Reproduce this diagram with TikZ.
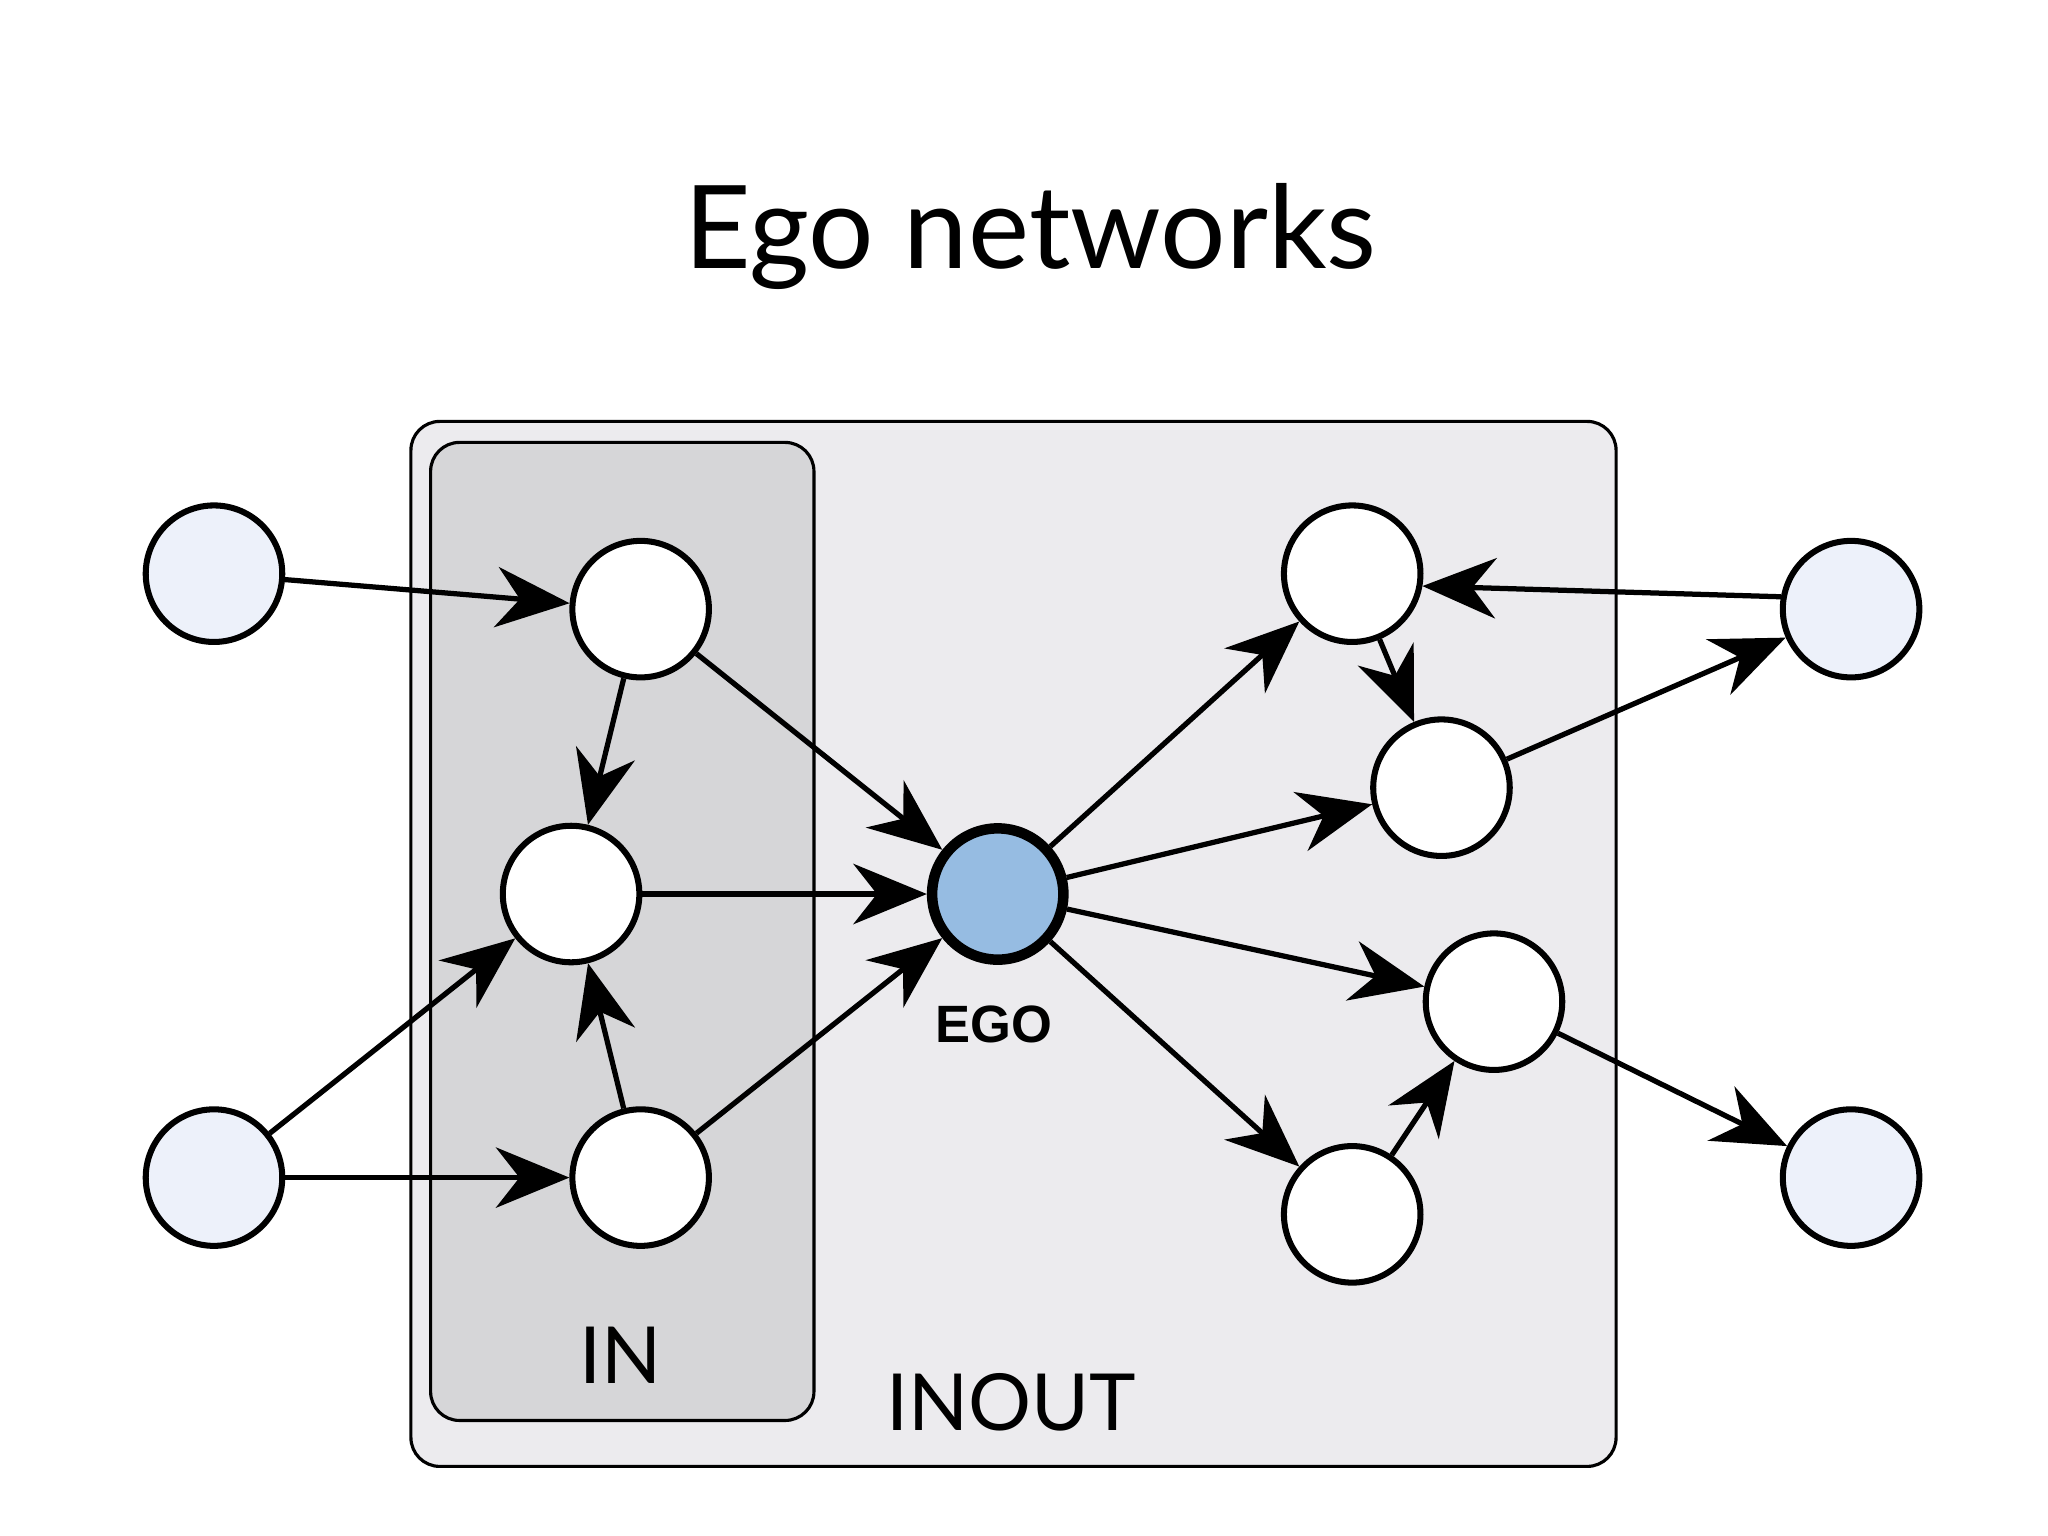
\documentclass[tikz,border=0pt]{standalone}
\usepackage{fontspec}
\setmainfont{Lato}
\newfontfamily\egofont{Liberation Sans}
\usetikzlibrary{arrows.meta}
\definecolor{outerbg}{HTML}{ECEBEE}
\definecolor{innerbg}{HTML}{D6D6D8}
\definecolor{lightn}{HTML}{EDF1FA}
\definecolor{egoc}{HTML}{96BCE2}
\begin{document}
\begin{tikzpicture}[x=0.5pt,y=-0.5pt,
  nd/.style={circle,draw,line width=2.3pt,minimum size=52pt,inner sep=0pt,fill=white},
  lt/.style={nd,fill=lightn},
  ed/.style={line width=2pt,-{Stealth[length=28pt,width=23pt,inset=9pt]}}]
\useasboundingbox (0,0) rectangle (1560,1170);
\fill[white] (0,0) rectangle (1560,1170);
\draw[line width=1.2pt,fill=outerbg,rounded corners=11pt] (313,321) rectangle (1231,1117);
\draw[line width=1.2pt,fill=innerbg,rounded corners=11pt] (328,337) rectangle (620,1082);
\node at (785,180) {\fontsize{44pt}{50pt}\selectfont Ego networks};
\node (inl) at (473,1032) {\fontsize{30pt}{34pt}\selectfont IN};
\node (iol) at (770,1068) {\fontsize{30pt}{34pt}\selectfont INOUT};
\node[lt] (L1) at (163,437) {};
\node[lt] (L2) at (163,897) {};
\node[nd] (A) at (488,464) {};
\node[nd] (B) at (435,681) {};
\node[nd] (C) at (488,897) {};
\node[nd,fill=egoc,line width=4pt,minimum size=50pt] (EGO) at (760,681) {};
\node[font=\egofont\bfseries\fontsize{20pt}{24pt}\selectfont] at (757,780) {EGO};
\node[nd] (D) at (1030,437) {};
\node[nd] (E) at (1098,600) {};
\node[nd] (F) at (1138,763) {};
\node[nd] (G) at (1030,925) {};
\node[lt] (R1) at (1410,464) {};
\node[lt] (R2) at (1410,897) {};
\draw[ed] (L1) -- (A);
\draw[ed] (A) -- (B);
\draw[ed] (A) -- (EGO);
\draw[ed] (B) -- (EGO);
\draw[ed] (L2) -- (B);
\draw[ed] (L2) -- (C);
\draw[ed] (C) -- (B);
\draw[ed] (C) -- (EGO);
\draw[ed] (EGO) -- (D);
\draw[ed] (EGO) -- (E);
\draw[ed] (EGO) -- (F);
\draw[ed] (EGO) -- (G);
\draw[ed] (R1.170) -- (D.-10);
\draw[ed] (D) -- (E);
\draw[ed] (E) -- (R1);
\draw[ed] (G) -- (F);
\draw[ed] (F) -- (R2);
\end{tikzpicture}
\end{document}
